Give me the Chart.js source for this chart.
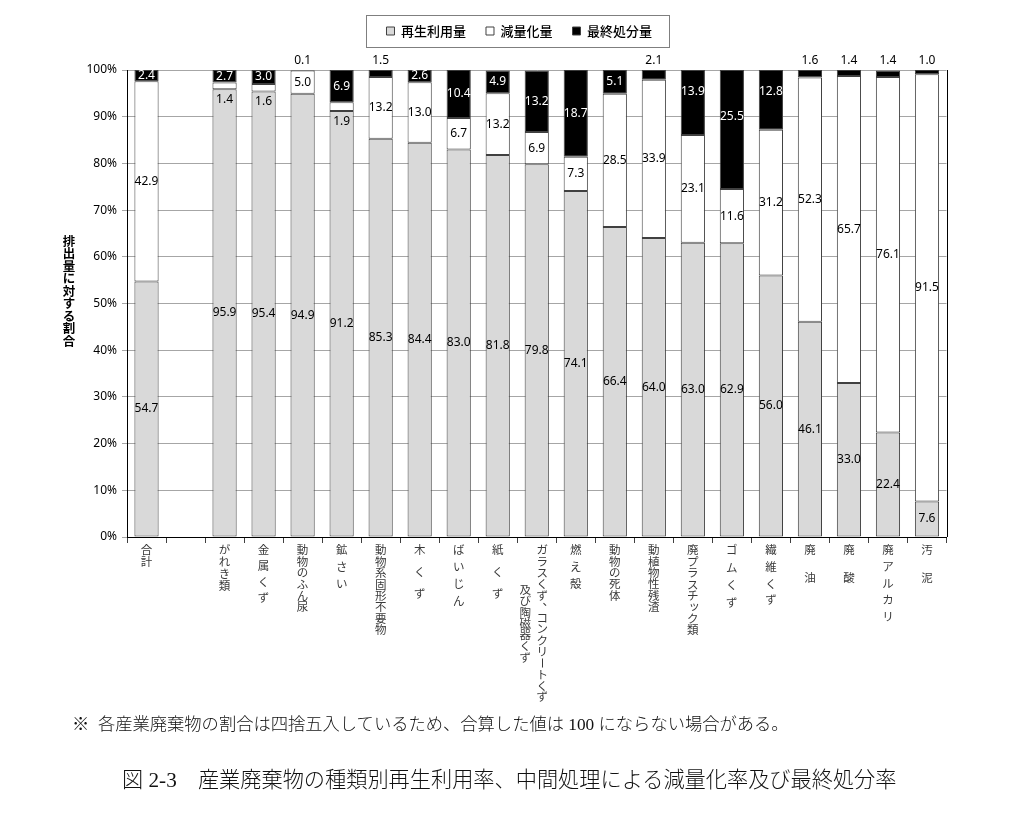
<!DOCTYPE html>
<html lang="ja">
<head>
<meta charset="utf-8">
<title>産業廃棄物の種類別再生利用率</title>
<script src="https://cdn.jsdelivr.net/npm/chart.js@4.4.0/dist/chart.umd.min.js"></script>
<style>
  body { margin: 0; background: #fff; }
  #wrap { position: relative; width: 1024px; height: 818px; }
  #note, #caption {
    position: absolute; white-space: nowrap; color: #111;
    font-family: "Liberation Serif", "Noto Sans CJK JP", serif; font-weight: 300;
  }
  #note { left: 72px; top: 710px; font-size: 17.3px; }
  #caption { left: 122px; top: 762px; font-size: 21.2px; }
</style>
</head>
<body>
<div id="wrap">
  <canvas id="wasteChart" width="1024" height="818"></canvas>
  <div id="note">※&nbsp;&nbsp;各産業廃棄物の割合は四捨五入しているため、合算した値は 100 にならない場合がある。</div>
  <div id="caption">図 2-3　産業廃棄物の種類別再生利用率、中間処理による減量化率及び最終処分率</div>
</div>
<script>
// categories (each entry = columns of vertical text)
const categories = [
  ['合計'], [''], ['がれき類'], ['金属くず'], ['動物のふん尿'], ['鉱さい'], ['動物系固形不要物'],
  ['木くず'], ['ばいじん'], ['紙くず'], ['ガラスくず、コンクリートくず', '及び陶磁器くず'],
  ['燃え殻'], ['動物の死体'], ['動植物性残渣'], ['廃プラスチック類'], ['ゴムくず'], ['繊維くず'],
  ['廃油'], ['廃酸'], ['廃アルカリ'], ['汚泥']
];
const recycled = [54.7, null, 95.9, 95.4, 94.9, 91.2, 85.3, 84.4, 83.0, 81.8, 79.8, 74.1, 66.4, 64.0, 63.0, 62.9, 56.0, 46.1, 33.0, 22.4, 7.6];
const reduced  = [42.9, null, 1.4, 1.6, 5.0, 1.9, 13.2, 13.0, 6.7, 13.2, 6.9, 7.3, 28.5, 33.9, 23.1, 11.6, 31.2, 52.3, 65.7, 76.1, 91.5];
const landfill = [2.4, null, 2.7, 3.0, 0.1, 6.9, 1.5, 2.6, 10.4, 4.9, 13.2, 18.7, 5.1, 2.1, 13.9, 25.5, 12.8, 1.6, 1.4, 1.4, 1.0];
const yTicks = ['0%', '10%', '20%', '30%', '40%', '50%', '60%', '70%', '80%', '90%', '100%'];
const yTitle = '排出量に対する割合';

// style: character pitch of each vertical label, and lifted black labels
const labelPitch = [12, 12, 12, 16, 11.4, 17, 11.4, 22, 17, 22, 11.3, 17, 11.3, 11.3, 11.4, 17.5, 16.7, 28, 28, 16.7, 28];
const blackLift = {14: 11, 15: 13, 16: 8};

function drawVChar(ctx, ch, x, y) {
    if (ch === 'ー') {
        ctx.save();
        ctx.translate(x, y);
        ctx.rotate(Math.PI / 2);
        ctx.fillText(ch, 0, 0);
        ctx.restore();
    } else if (ch === '、' || ch === '。') {
        ctx.fillText(ch, x + 6, y - 6);
    } else if ('ッャュョァィゥェォっゃゅょ'.includes(ch)) {
        ctx.fillText(ch, x + 1.5, y - 1.5);
    } else {
        ctx.fillText(ch, x, y);
    }
}

// legend: fixed height so the plot starts at the right place, nudged right a bit
const legendGap = {
    id: 'legendGap',
    beforeInit(chart) {
        const fit = chart.legend.fit;
        chart.legend.fit = function () {
            fit.call(this);
            this.height = 65.5;
        };
    },
    afterLayout(chart) {
        chart.legend.left += 5;
        chart.legend.right += 5;
    }
};

const valueLabels = {
    id: 'valueLabels',
    afterDatasetsDraw(chart) {
        const {ctx, chartArea} = chart;
        ctx.save();
        ctx.font = '12px "Noto Sans"';
        ctx.textAlign = 'center';
        ctx.textBaseline = 'middle';
        chart.data.datasets.forEach((ds, di) => {
            chart.getDatasetMeta(di).data.forEach((bar, i) => {
                const v = ds.data[i];
                if (v == null) return;
                const top = Math.min(bar.y, bar.base);
                const bottom = Math.max(bar.y, bar.base);
                let y = (top + bottom) / 2;
                let color = '#000';
                if (di === 1 && v < 2) y = bottom + 10;
                if (di === 2) {
                    if (v < 2.3) {
                        y = chartArea.top - 9;
                    } else {
                        color = '#fff';
                        y -= blackLift[i] || 0;
                    }
                }
                ctx.fillStyle = color;
                ctx.fillText(v.toFixed(1), bar.x, y);
            });
        });
        ctx.restore();
    }
};

const decorations = {
    id: 'decorations',
    afterDraw(chart) {
        const {ctx, chartArea} = chart;
        const xScale = chart.scales.x;
        ctx.save();

        // right edge of plot area
        ctx.strokeStyle = '#000';
        ctx.lineWidth = 1;
        ctx.beginPath();
        ctx.moveTo(Math.round(chartArea.right) + 0.5, chartArea.top);
        ctx.lineTo(Math.round(chartArea.right) + 0.5, chartArea.bottom);
        ctx.stroke();

        // legend frame
        const boxes = chart.legend.legendHitBoxes;
        if (boxes && boxes.length) {
            const first = boxes[0], last = boxes[boxes.length - 1];
            const left = first.left - 20;
            const right = last.left + last.width + 17;
            ctx.strokeStyle = '#7f7f7f';
            ctx.strokeRect(Math.round(left) + 0.5, 15.5, Math.round(right - left), 32);
        }

        // vertical category labels
        ctx.font = '11.5px "Noto Sans CJK JP"';
        ctx.fillStyle = '#3a3a3a';
        ctx.textAlign = 'center';
        ctx.textBaseline = 'middle';
        const labelTop = chartArea.bottom + 13;
        categories.forEach((cols, i) => {
            const cx = xScale.getPixelForValue(i);
            const pitch = labelPitch[i];
            const longest = Math.max(...cols.map(c => c.length));
            cols.forEach((col, k) => {
                const colX = cx + (cols.length > 1 ? -3 + ((cols.length - 1) / 2 - k) * 17 : 0);
                const y0 = labelTop + (longest - col.length) * pitch / 2;
                [...col].forEach((ch, j) => drawVChar(ctx, ch, colX, y0 + j * pitch));
            });
        });

        // vertical y axis title
        ctx.font = 'bold 12.5px "Noto Sans CJK JP"';
        ctx.fillStyle = '#000';
        const chars = [...yTitle];
        const tPitch = 12.5;
        const ty0 = 291 - (chars.length - 1) * tPitch / 2;
        chars.forEach((ch, j) => drawVChar(ctx, ch, 69, ty0 + j * tPitch));

        ctx.restore();
    }
};

const ctx = document.getElementById('wasteChart').getContext('2d');
new Chart(ctx, {
    type: 'bar',
    data: {
        labels: categories.map(c => c.join('')),
        datasets: [
            {label: '再生利用量', data: recycled, backgroundColor: '#d9d9d9'},
            {label: '減量化量', data: reduced, backgroundColor: '#ffffff'},
            {label: '最終処分量', data: landfill, backgroundColor: '#000000'}
        ].map(ds => Object.assign(ds, {
            borderColor: '#404040',
            borderWidth: 1,
            borderSkipped: false,
            barPercentage: 0.62,
            categoryPercentage: 1
        }))
    },
    options: {
        responsive: false,
        animation: false,
        layout: {padding: {left: 82, right: 77.5, top: 4.5, bottom: 0}},
        plugins: {
            legend: {
                position: 'top',
                labels: {
                    boxWidth: 8,
                    boxHeight: 8,
                    padding: 20,
                    color: '#000',
                    font: {family: '"Noto Sans CJK JP"', size: 13, weight: '500'}
                }
            },
            tooltip: {enabled: false}
        },
        scales: {
            x: {
                stacked: true,
                ticks: {display: false},
                grid: {offset: true, drawOnChartArea: false, tickLength: 6, color: '#404040'},
                border: {color: '#000'},
                afterFit: s => { s.height = 281; }
            },
            y: {
                stacked: true,
                min: 0,
                max: 100,
                ticks: {
                    stepSize: 10,
                    padding: 5,
                    color: '#000',
                    font: {family: '"Noto Sans"', size: 12},
                    callback: (v, i) => yTicks[i]
                },
                grid: {color: '#a6a6a6', tickLength: 5},
                border: {color: '#000'},
                afterFit: s => { s.width = 45; }
            }
        }
    },
    plugins: [legendGap, valueLabels, decorations]
});
</script>
</body>
</html>
